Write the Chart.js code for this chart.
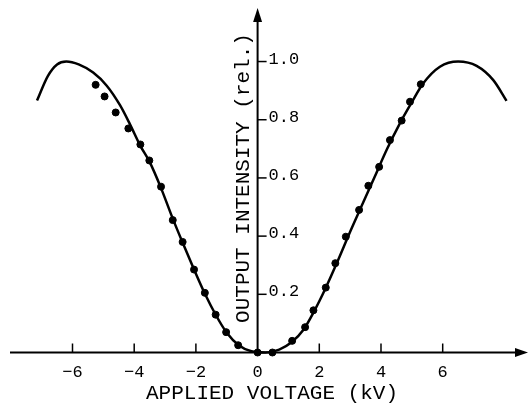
<!DOCTYPE html>
<html>
<head>
<meta charset="utf-8">
<script src="https://cdn.jsdelivr.net/npm/chart.js@4.4.1/dist/chart.umd.min.js"></script>
<style>
    html, body { margin: 0; padding: 0; background: #fff; }
    #wrap { width: 530px; height: 403px; }
</style>
</head>
<body>
<div id="wrap"><canvas id="chart"></canvas></div>
<script>
// theory curve
const curveVolts = [-7.15, -6.8, -6.5, -6.2, -5.8, -5.33, -4.89, -4.46, -4.14, -3.8, -3.5, -3.13, -2.75, -2.4, -2.05, -1.7, -1.35, -1.0, -0.6, -0.2, 0.25, 0.7, 1.1, 1.5, 1.8, 2.2, 2.6, 3.0, 3.4, 3.8, 4.2, 4.6, 5.0, 5.37, 5.91, 6.5, 7.1, 7.64, 8.07];
const curveIntensity = [0.866, 0.95, 0.99, 1.0, 0.99, 0.962, 0.917, 0.85, 0.785, 0.71, 0.655, 0.565, 0.46, 0.37, 0.283, 0.2, 0.128, 0.068, 0.024, 0.004, 0, 0.01, 0.035, 0.08, 0.135, 0.22, 0.315, 0.415, 0.51, 0.605, 0.7, 0.785, 0.86, 0.925, 0.982, 1.0, 0.985, 0.936, 0.865];

// measured points
const measVolts = [-5.25, -4.96, -4.6, -4.19, -3.8, -3.51, -3.13, -2.75, -2.43, -2.06, -1.71, -1.36, -1.02, -0.63, 0, 0.48, 1.12, 1.54, 1.81, 2.21, 2.52, 2.86, 3.29, 3.59, 3.94, 4.29, 4.67, 4.94, 5.29];
const measIntensity = [0.92, 0.88, 0.825, 0.77, 0.715, 0.66, 0.57, 0.455, 0.38, 0.285, 0.205, 0.13, 0.07, 0.025, 0, 0, 0.04, 0.087, 0.145, 0.223, 0.307, 0.398, 0.49, 0.573, 0.638, 0.73, 0.797, 0.862, 0.922];

const xTicks = [-6, -4, -2, 0, 2, 4, 6];
const yTicks = [0.2, 0.4, 0.6, 0.8, 1.0];
const xTitle = 'APPLIED VOLTAGE (kV)';
const yTitle = 'OUTPUT INTENSITY (rel.)';

const FONT = "'Liberation Mono', 'DejaVu Sans Mono', monospace";

const axesPlugin = {
    id: 'axesPlugin',
    afterDraw(chart) {
        const ctx = chart.ctx;
        const xs = chart.scales.x;
        const ys = chart.scales.y;
        const x0 = xs.getPixelForValue(0);
        const y0 = ys.getPixelForValue(0);

        ctx.save();
        ctx.strokeStyle = '#000';
        ctx.fillStyle = '#000';
        ctx.lineWidth = 2;

        // x axis + arrow
        ctx.beginPath();
        ctx.moveTo(10, y0);
        ctx.lineTo(518, y0);
        ctx.stroke();
        ctx.beginPath();
        ctx.moveTo(528, y0);
        ctx.lineTo(515, y0 - 4.5);
        ctx.lineTo(515, y0 + 4.5);
        ctx.closePath();
        ctx.fill();

        // y axis + arrow
        ctx.beginPath();
        ctx.moveTo(x0, y0);
        ctx.lineTo(x0, 20);
        ctx.stroke();
        ctx.beginPath();
        ctx.moveTo(x0, 8);
        ctx.lineTo(x0 - 4.5, 22);
        ctx.lineTo(x0 + 4.5, 22);
        ctx.closePath();
        ctx.fill();

        // x ticks
        ctx.lineWidth = 1.5;
        ctx.font = '17px ' + FONT;
        ctx.textAlign = 'center';
        ctx.textBaseline = 'middle';
        xTicks.forEach(v => {
            const px = xs.getPixelForValue(v);
            if (v !== 0) {
                ctx.beginPath();
                ctx.moveTo(px, y0);
                ctx.lineTo(px, y0 - 9);
                ctx.stroke();
            }
            const label = v < 0 ? '\u2212' + Math.abs(v) : String(v);
            ctx.fillText(label, px, y0 + 20);
        });

        // y ticks
        ctx.textAlign = 'left';
        ctx.textBaseline = 'alphabetic';
        yTicks.forEach(v => {
            const py = ys.getPixelForValue(v);
            ctx.beginPath();
            ctx.moveTo(x0, py);
            ctx.lineTo(x0 + 9, py);
            ctx.stroke();
            ctx.fillText(v.toFixed(1), x0 + 11, py + 2);
        });

        // titles
        ctx.font = '21px ' + FONT;
        ctx.textAlign = 'center';
        ctx.textBaseline = 'middle';
        ctx.fillText(xTitle, 272, 393);

        ctx.translate(243, 178);
        ctx.rotate(-Math.PI / 2);
        ctx.fillText(yTitle, 0, 0);
        ctx.restore();
    }
};

const ctx = document.getElementById('chart').getContext('2d');
new Chart(ctx, {
    type: 'scatter',
    data: {
        datasets: [
            {
                label: 'theory',
                data: curveVolts.map((v, i) => ({ x: v, y: curveIntensity[i] })),
                showLine: true,
                borderColor: '#000',
                borderWidth: 2.5,
                pointRadius: 0,
                cubicInterpolationMode: 'monotone',
                clip: false
            },
            {
                label: 'measured',
                data: measVolts.map((v, i) => ({ x: v, y: measIntensity[i] })),
                showLine: false,
                backgroundColor: '#000',
                borderColor: '#000',
                pointRadius: 3.5,
                clip: false
            }
        ]
    },
    options: {
        responsive: true,
        maintainAspectRatio: false,
        animation: false,
        layout: { padding: { left: 10, right: 10, top: 8, bottom: 50.5 } },
        scales: {
            x: { type: 'linear', display: false, min: -8.026, max: 8.506 },
            y: { type: 'linear', display: false, min: 0, max: 1.184 }
        },
        plugins: {
            legend: { display: false },
            tooltip: { enabled: false }
        }
    },
    plugins: [axesPlugin]
});
</script>
</body>
</html>
